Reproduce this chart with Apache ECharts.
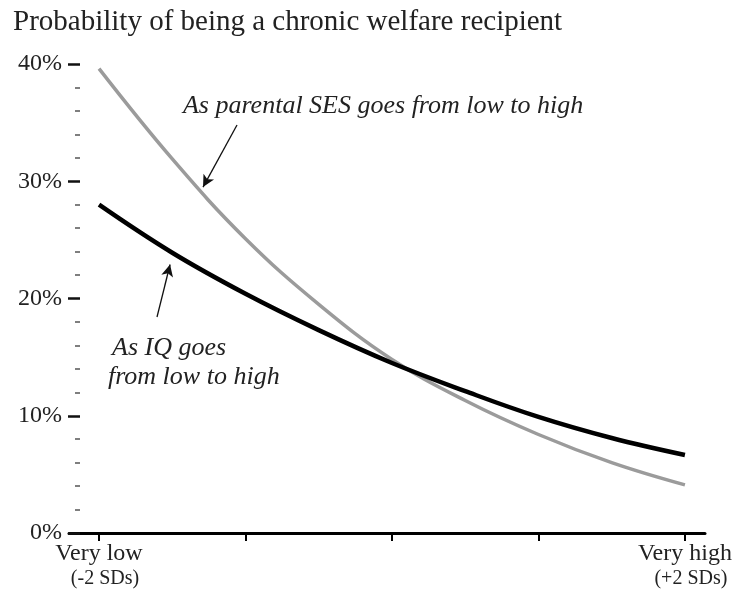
<!DOCTYPE html>
<html lang="en">
<head>
    <title>Probability of being a chronic welfare recipient</title>
    <meta charset="utf-8">
    <script src="https://cdn.jsdelivr.net/npm/echarts@6/dist/echarts.min.js"></script>
    <style>
        html, body { margin: 0; padding: 0; background: #fff; }
        #chart { width: 740px; height: 603px; }
    </style>
</head>
<body>
    <div id="chart"></div>
    <script type="text/javascript">
        // data (SD of the predictor, % probability)
        var sdPoints = [-2, -1.5, -1, -0.5, 0, 0.5, 1, 1.5, 2];
        var sesValues = [39.6, 31.9, 25.1, 19.5, 14.8, 11.3, 8.4, 6.0, 4.1];
        var iqValues = [28.0, 23.9, 20.4, 17.3, 14.5, 12.1, 9.9, 8.1, 6.65];
        var yTicks = [0, 10, 20, 30, 40];
        var xTickValues = [-2, -1, 0, 1, 2];
        var xEndLabels = { "-2": ["Very low", "(-2 SDs)"], "2": ["Very high", "(+2 SDs)"] };

        var serif = "'Liberation Serif', 'Times New Roman', serif";

        function pairs(values) {
            return sdPoints.map(function (x, i) { return [x, values[i]]; });
        }

        var chart = echarts.init(document.getElementById("chart"));
        var option = {
            animation: false,
            backgroundColor: "#fff",
            title: {
                text: "Probability of being a chronic welfare recipient",
                left: 8,
                top: 3,
                textStyle: { fontFamily: serif, fontSize: 29, fontWeight: "normal", color: "#222" }
            },
            grid: { left: 69, right: 35, top: 64, bottom: 70, containLabel: false },
            xAxis: {
                type: "value",
                min: -2.205,
                max: 2.137,
                axisLine: { show: true, onZero: false, lineStyle: { color: "#000", width: 3 } },
                axisTick: { show: true, customValues: xTickValues, length: 8, lineStyle: { color: "#000", width: 2 } },
                axisLabel: {
                    customValues: [-2, 2],
                    margin: 8,
                    formatter: function (v) {
                        var lab = xEndLabels[String(v)];
                        return lab ? "{a|" + lab[0] + "}\n{b|" + lab[1] + "}" : "";
                    },
                    rich: {
                        a: { fontFamily: serif, fontSize: 24, color: "#222", lineHeight: 25 },
                        b: { fontFamily: serif, fontSize: 20, color: "#222", lineHeight: 25, padding: [0, 0, 0, 12] }
                    }
                },
                splitLine: { show: false }
            },
            yAxis: {
                type: "value",
                min: 0,
                max: 40,
                interval: 10,
                offset: -11,
                axisLine: { show: false, onZero: false },
                axisTick: { show: true, length: 12, lineStyle: { color: "#111", width: 2.5 } },
                minorTick: { show: true, splitNumber: 5, length: 5, lineStyle: { color: "#555", width: 1.5 } },
                axisLabel: {
                    margin: 18,
                    fontFamily: serif,
                    fontSize: 24,
                    color: "#222",
                    customValues: yTicks,
                    formatter: "{value}%"
                },
                splitLine: { show: false }
            },
            series: [
                {
                    name: "Parental SES",
                    type: "line",
                    smooth: 0.4,
                    showSymbol: false,
                    data: pairs(sesValues),
                    lineStyle: { color: "#9b9b9b", width: 3.5 },
                    markLine: {
                        silent: true,
                        symbol: ["none", "arrow"],
                        symbolSize: [9, 12],
                        label: { show: false },
                        lineStyle: { color: "#111", width: 1.3, type: "solid" },
                        data: [[{ coord: [-1.058, 34.8] }, { coord: [-1.29, 29.5] }]]
                    },
                    markPoint: {
                        silent: true,
                        symbolSize: 0,
                        label: {
                            show: true, position: "right", distance: 0,
                            fontFamily: serif, fontStyle: "italic", fontSize: 26, color: "#222",
                            formatter: "{b}"
                        },
                        data: [{ name: "As parental SES goes from low to high", coord: [-1.427, 36.4] }]
                    }
                },
                {
                    name: "IQ",
                    type: "line",
                    smooth: 0.4,
                    showSymbol: false,
                    data: pairs(iqValues),
                    lineStyle: { color: "#000", width: 4.5 },
                    markLine: {
                        silent: true,
                        symbol: ["none", "arrow"],
                        symbolSize: [9, 12],
                        label: { show: false },
                        lineStyle: { color: "#111", width: 1.3, type: "solid" },
                        data: [[{ coord: [-1.604, 18.42] }, { coord: [-1.515, 22.9] }]]
                    },
                    markPoint: {
                        silent: true,
                        symbolSize: 0,
                        label: {
                            show: true, position: "right", distance: 0,
                            fontFamily: serif, fontStyle: "italic", fontSize: 26, color: "#222",
                            formatter: "{b}"
                        },
                        data: [
                            { name: "As IQ goes", coord: [-1.911, 15.8] },
                            { name: "from low to high", coord: [-1.939, 13.3] }
                        ]
                    }
                }
            ]
        };
        chart.setOption(option);
    </script>
</body>
</html>
